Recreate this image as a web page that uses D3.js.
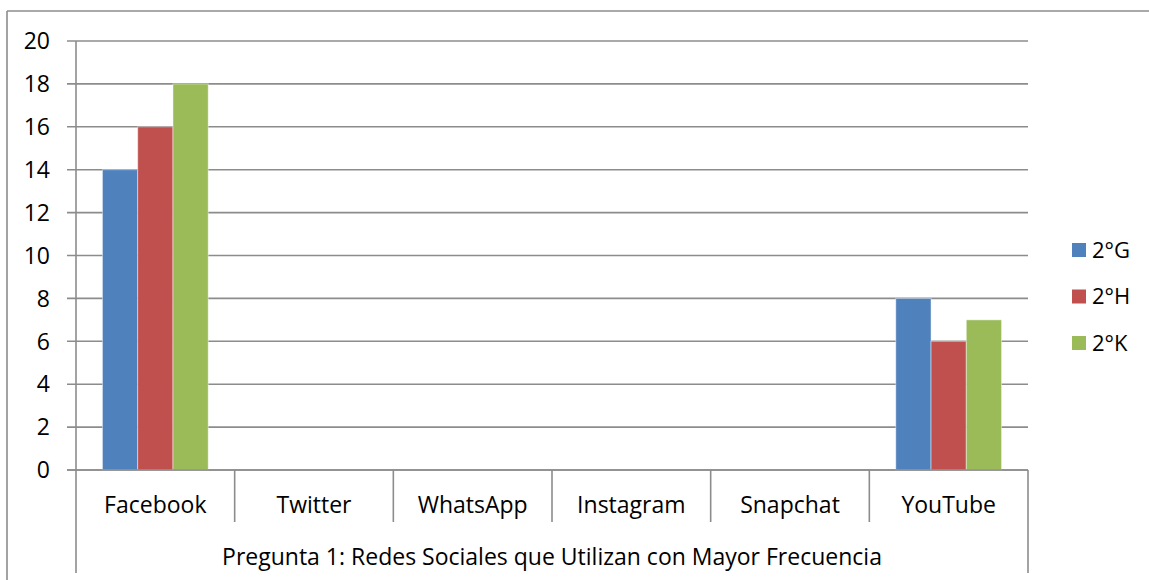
<!DOCTYPE html>
<html>
<head>
<meta charset="utf-8">
<script src="https://cdn.jsdelivr.net/npm/d3@7"></script>
<style>
	body { margin: 0; background: #fff; }
	svg { display: block; font-family: 'Open Sans', sans-serif; }
	.gridline { stroke: #8c8c8c; stroke-width: 1.6; }
	.axisline { stroke: #8c8c8c; stroke-width: 1.6; }
	.lbl { font-size: 23px; fill: #000; }
	.leg { font-size: 22px; fill: #000; }
</style>
</head>
<body>
<svg id="chart" width="1149" height="580"></svg>
<script>
const categories = ['Facebook', 'Twitter', 'WhatsApp', 'Instagram', 'Snapchat', 'YouTube']
const series = ['2°G', '2°H', '2°K']
const values2G = [14, 0, 0, 0, 0, 8]
const values2H = [16, 0, 0, 0, 0, 6]
const values2K = [18, 0, 0, 0, 0, 7]
const yTicks = [0, 2, 4, 6, 8, 10, 12, 14, 16, 18, 20]
const groupLabel = 'Pregunta 1: Redes Sociales que Utilizan con Mayor Frecuencia'
const colours = ['#4f81bd', '#c0504d', '#9bbb59']

const seriesValues = [values2G, values2H, values2K]

const W = 1149
const H = 580
const plotLeft = 76, plotRight = 1028, plotTop = 41, plotBottom = 470

const svg = d3.select('#chart')

// outer chart border (top + left only visible in the crop)
svg.append('line').attr('class', 'axisline')
	.attr('x1', 7).attr('x2', W).attr('y1', 11).attr('y2', 11)
svg.append('line').attr('class', 'axisline')
	.attr('x1', 7).attr('x2', 7).attr('y1', 11).attr('y2', H)

const x0 = d3.scaleBand()
	.domain(categories)
	.range([plotLeft, plotRight])

const x1 = d3.scaleBand()
	.domain(series)
	.range([0, x0.bandwidth()])
	.paddingInner(0)
	.paddingOuter(0.75)

const y = d3.scaleLinear()
	.domain([0, 20])
	.range([plotBottom, plotTop])

// gridlines + y labels
const yLines = svg.append('g')
	.selectAll('g')
	.data(yTicks)
	.enter()
	.append('g')
	.attr('transform', d => `translate(0, ${y(d)})`)

yLines.append('line')
	.attr('class', 'gridline')
	.attr('x1', plotLeft - 9)
	.attr('x2', plotRight)

yLines.append('text')
	.attr('class', 'lbl')
	.attr('x', 50)
	.attr('dy', '0.36em')
	.attr('text-anchor', 'end')
	.text(d => d)

// bars
const groups = svg.append('g')
	.selectAll('g')
	.data(categories)
	.enter()
	.append('g')
	.attr('transform', d => `translate(${x0(d)}, 0)`)

groups.selectAll('rect')
	.data((d, i) => series.map((s, j) => ({ s, v: seriesValues[j][i], c: colours[j] })).filter(d => d.v > 0))
	.enter()
	.append('rect')
	.attr('x', d => x1(d.s))
	.attr('y', d => y(d.v))
	.attr('width', x1.bandwidth())
	.attr('height', d => y(0) - y(d.v))
	.attr('fill', d => d.c)
	.attr('stroke', 'rgba(255,255,255,0.45)')
	.attr('stroke-width', 1)

// axes
svg.append('line').attr('class', 'axisline')
	.attr('x1', plotLeft).attr('x2', plotLeft).attr('y1', plotTop).attr('y2', plotBottom)
svg.append('line').attr('class', 'axisline')
	.attr('x1', plotLeft - 9).attr('x2', plotRight).attr('y1', plotBottom).attr('y2', plotBottom)

// category separators
const edges = categories.map(c => x0(c)).concat([plotRight])
svg.append('g')
	.selectAll('line')
	.data(edges)
	.enter()
	.append('line')
	.attr('class', 'axisline')
	.attr('x1', d => d).attr('x2', d => d)
	.attr('y1', plotBottom)
	.attr('y2', (d, i) => (i === 0 || i === edges.length - 1) ? 573 : 522)

svg.append('g')
	.selectAll('text')
	.data(categories)
	.enter()
	.append('text')
	.attr('class', 'lbl')
	.attr('x', d => x0(d) + x0.bandwidth()/2)
	.attr('y', 513)
	.attr('text-anchor', 'middle')
	.text(d => d)

svg.append('text')
	.attr('class', 'lbl')
	.attr('x', (plotLeft + plotRight)/2)
	.attr('y', 565)
	.attr('text-anchor', 'middle')
	.text(groupLabel)

// legend
const legend = svg.append('g')
	.selectAll('g')
	.data(series)
	.enter()
	.append('g')
	.attr('transform', (d, i) => `translate(1072, ${250 + i*46.5})`)

legend.append('rect')
	.attr('x', 0).attr('y', -7)
	.attr('width', 14).attr('height', 14)
	.attr('fill', (d, i) => colours[i])

legend.append('text')
	.attr('class', 'leg')
	.attr('x', 20)
	.attr('dy', '0.36em')
	.text(d => d)
</script>
</body>
</html>
